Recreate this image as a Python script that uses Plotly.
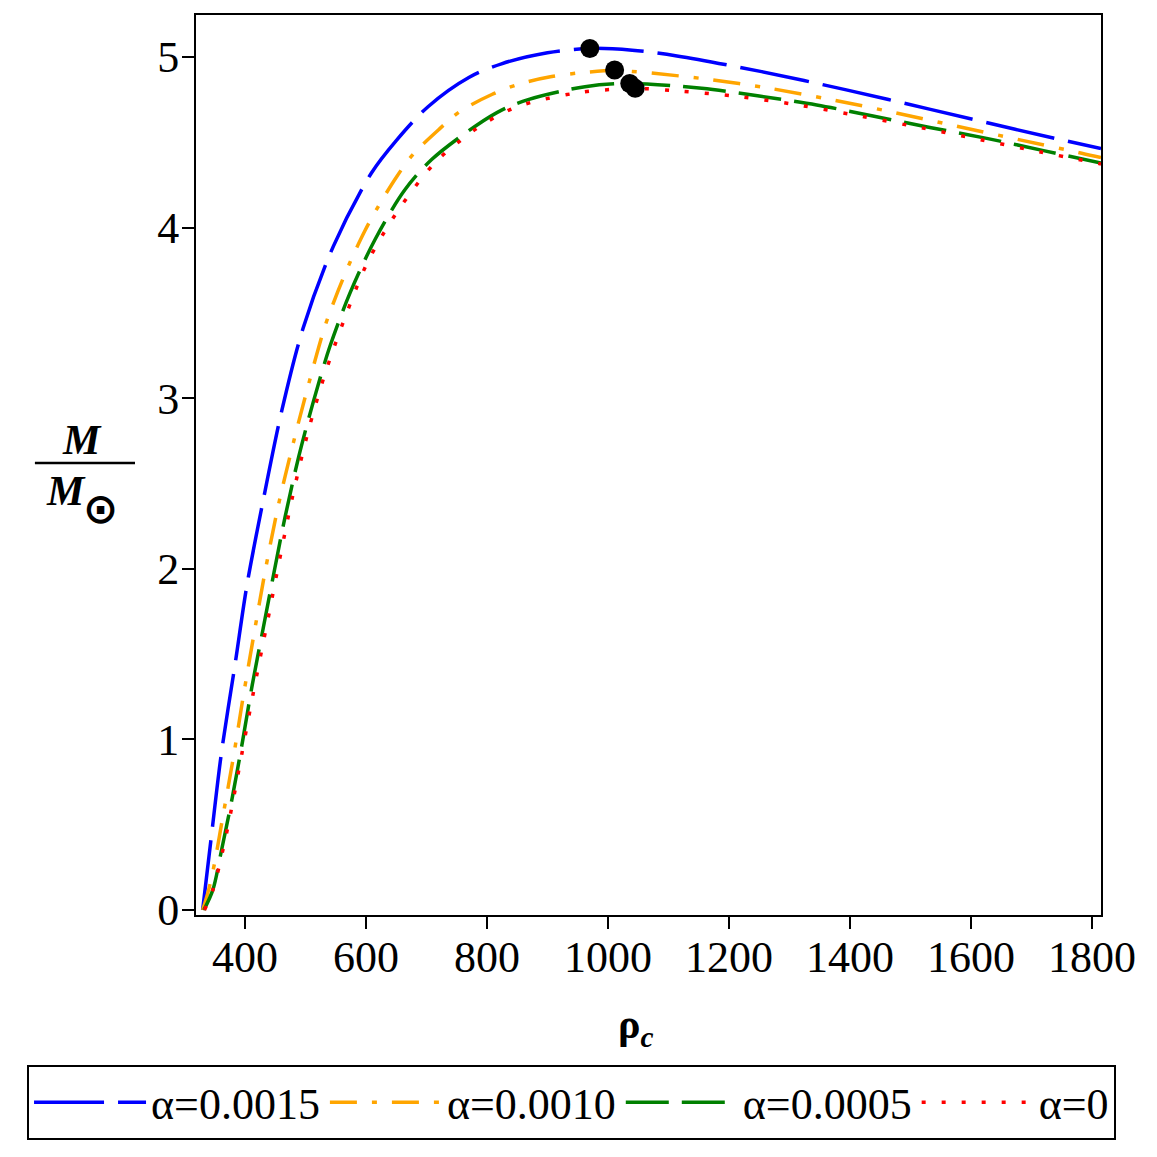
import plotly.graph_objects as go

# ---- data ----
rho_a15 = [330, 344, 361, 384, 403, 430, 461, 496, 546, 609, 650, 703, 770, 824, 900, 970, 1040, 1114, 1254, 1394, 1533, 1673, 1815]
M_a15 = [0.0, 0.42, 0.92, 1.45, 1.90, 2.40, 2.93, 3.41, 3.89, 4.32, 4.51, 4.71, 4.88, 4.96, 5.025, 5.05, 5.04, 5.006, 4.914, 4.807, 4.693, 4.576, 4.463]

rho_a10 = [330, 340, 350, 362, 381, 397, 415, 433, 455, 480, 505, 532, 554, 574, 598, 618, 651, 678, 722, 755, 808, 852, 907, 954, 1011, 1058, 1166, 1268, 1372, 1474, 1576, 1681, 1783, 1815]
M_a10 = [0.0, 0.12, 0.28, 0.52, 0.90, 1.25, 1.62, 1.98, 2.37, 2.74, 3.08, 3.42, 3.63, 3.80, 3.98, 4.11, 4.30, 4.43, 4.58, 4.68, 4.78, 4.84, 4.885, 4.907, 4.92, 4.91, 4.869, 4.816, 4.748, 4.674, 4.595, 4.514, 4.436, 4.41]

rho_a05 = [332, 347, 360, 379, 396, 412, 430, 448, 466, 489, 513, 540, 574, 615, 664, 709, 783, 825, 868, 962, 1035, 1155, 1250, 1345, 1438, 1532, 1626, 1720, 1815]
M_a05 = [0.0, 0.12, 0.33, 0.66, 0.99, 1.32, 1.65, 1.98, 2.30, 2.66, 2.98, 3.30, 3.62, 3.93, 4.22, 4.40, 4.60, 4.69, 4.75, 4.826, 4.845, 4.816, 4.771, 4.719, 4.654, 4.587, 4.523, 4.451, 4.378]

rho_a0 = [333, 347, 364, 378, 395, 413, 428, 441, 453, 466, 479, 504, 532, 565, 603, 653, 714, 767, 800, 851, 950, 1045, 1118, 1218, 1317, 1416, 1515, 1613, 1711, 1815]
M_a0 = [0.0, 0.12, 0.36, 0.60, 0.92, 1.26, 1.53, 1.76, 1.98, 2.21, 2.43, 2.80, 3.14, 3.47, 3.80, 4.10, 4.38, 4.54, 4.62, 4.71, 4.79, 4.815, 4.80, 4.767, 4.717, 4.654, 4.587, 4.517, 4.446, 4.373]

# maxima marked by black dots
rho_max = [970, 1011, 1036, 1045]
M_max = [5.05, 4.924, 4.845, 4.816]

labels = ["α=0.0015", "α=0.0010", "α=0.0005", "α=0"]
colors = ["#0000ff", "#ffa500", "#008000", "#ff0000"]
dashes = ["70px,14px", "27px,15px,5px,15px", "43px,13px", "4px,16px"]
x_ticks = [400, 600, 800, 1000, 1200, 1400, 1600, 1800]
y_ticks = [0, 1, 2, 3, 4, 5]

series = [(rho_a15, M_a15), (rho_a10, M_a10), (rho_a05, M_a05), (rho_a0, M_a0)]

fig = go.Figure()
for (x, y), name, c, d in zip(series, labels, colors, dashes):
    fig.add_trace(go.Scatter(
        x=x, y=y, mode="lines", name=name,
        line=dict(color=c, width=3.5, dash=d, shape="spline", smoothing=0.9),
    ))

fig.add_trace(go.Scatter(
    x=rho_max, y=M_max, mode="markers", showlegend=False,
    marker=dict(color="black", size=19),
))

FONT = "Liberation Serif"

fig.update_layout(
    width=1157, height=1157,
    margin=dict(l=196, r=56, t=15, b=242, autoexpand=False),
    paper_bgcolor="white", plot_bgcolor="white",
    font=dict(family=FONT, size=44, color="black"),
    showlegend=True,
    legend=dict(
        orientation="h", x=-0.1867, xanchor="left", y=-0.1667, yanchor="top",
        bordercolor="black", borderwidth=2, bgcolor="white",
        font=dict(family=FONT, size=44, color="black"),
        itemwidth=112, tracegroupgap=0,
    ),
)

fig.update_xaxes(
    range=[319, 1815], tickvals=x_ticks,
    showline=True, linecolor="black", linewidth=2, mirror=True,
    ticks="outside", ticklen=12, tickwidth=2, tickcolor="black",
    showgrid=False, zeroline=False, ticklabelstandoff=-10,
    tickfont=dict(family=FONT, size=44, color="black"),
)
fig.update_yaxes(
    range=[-0.029, 5.246], tickvals=y_ticks,
    showline=True, linecolor="black", linewidth=2, mirror=True,
    ticks="outside", ticklen=12, tickwidth=2, tickcolor="black",
    showgrid=False, zeroline=False, ticklabelstandoff=-6,
    tickfont=dict(family=FONT, size=44, color="black"),
)

# axis titles
fig.add_annotation(
    xref="paper", yref="paper", x=0.486, y=-0.1244, xanchor="center", yanchor="middle",
    text="<b>ρ</b><sub><b><i>c</i></b></sub>", showarrow=False,
    font=dict(family=FONT, size=42, color="black"),
)
fig.add_annotation(
    xref="paper", yref="paper", x=-0.126, y=0.5278, xanchor="center", yanchor="middle",
    text="<b><i>M</i></b>", showarrow=False,
    font=dict(family=FONT, size=42, color="black"),
)
fig.add_annotation(
    xref="paper", yref="paper", x=-0.1436, y=0.4711, xanchor="center", yanchor="middle",
    text="<b><i>M</i></b>", showarrow=False,
    font=dict(family=FONT, size=42, color="black"),
)
fig.add_annotation(
    xref="paper", yref="paper", x=-0.106, y=0.4522, xanchor="center", yanchor="middle",
    text="<b>⊙</b>", showarrow=False,
    font=dict(family="DejaVu Sans", size=42, color="black"),
)
fig.add_shape(
    type="line", xref="paper", yref="paper",
    x0=-0.178, x1=-0.0674, y0=0.5022, y1=0.5022,
    line=dict(color="black", width=2.5),
)

fig.write_html("out.html")
